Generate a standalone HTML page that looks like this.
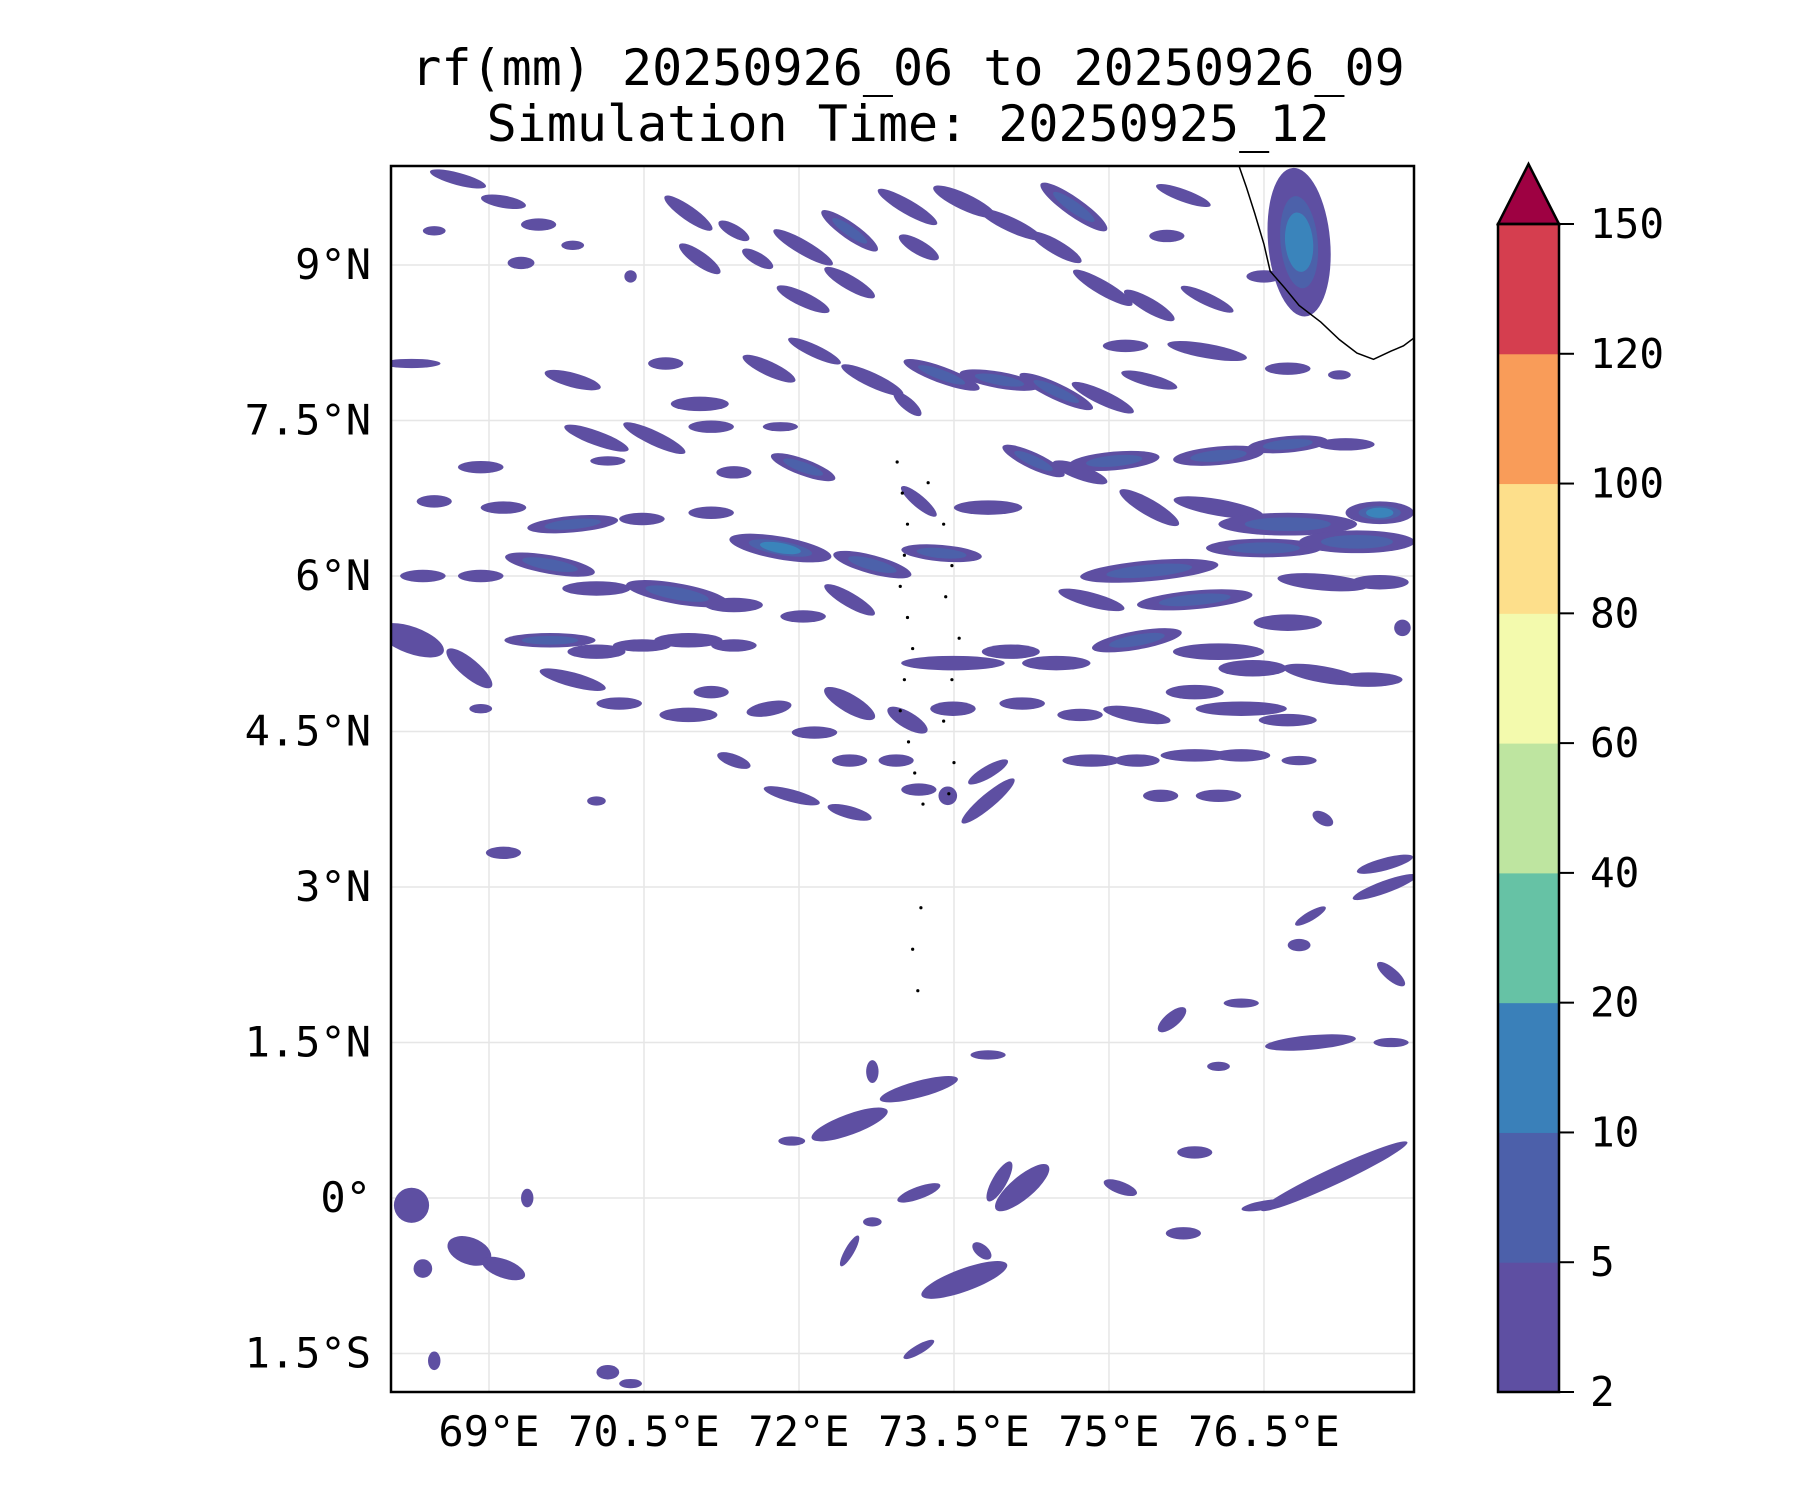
<!DOCTYPE html>
<html><head><meta charset="utf-8">
<style>
html,body{margin:0;padding:0;background:#fff;}
svg{display:block;font-family:"DejaVu Sans Mono","Liberation Mono",monospace;}
</style></head>
<body>
<svg id="chart" width="1800" height="1500" viewBox="0 0 1800 1500" xmlns="http://www.w3.org/2000/svg">
<text x="908" y="85" font-size="50" text-anchor="middle">rf(mm) 20250926_06 to 20250926_09</text>
<text x="908" y="141" font-size="50" text-anchor="middle">Simulation Time: 20250925_12</text>
<defs><clipPath id="mapclip"><rect x="391" y="166" width="1023" height="1226"/></clipPath></defs>
<g id="grid"></g>
<g id="blobs" clip-path="url(#mapclip)"></g>
<g id="coast" clip-path="url(#mapclip)"></g>
<rect x="391" y="166" width="1023" height="1226" fill="none" stroke="#000" stroke-width="2.5"/>
<g id="axes"></g>
<g id="cbar"></g>
</svg>
<script>
const latTicks=[9,7.5,6,4.5,3,1.5,0,-1.5];
const latLabels=["9°N","7.5°N","6°N","4.5°N","3°N","1.5°N","0°","1.5°S"];
const lonTicks=[69,70.5,72,73.5,75,76.5];
const lonLabels=["69°E","70.5°E","72°E","73.5°E","75°E","76.5°E"];
const cbLevels=[2,5,10,20,40,60,80,100,120,150];
const cbColors=["#5e4fa2","#4c60aa","#3a80b9","#66c2a5","#bee5a0","#f3faad","#fddf8b","#f99c59","#d53e4f"];
const extendColor="#9e0142";
// rain cells (one entry per cell, same order in every array)
const cellLon=[
68.70,69.14,69.48,68.47,69.31,69.81,70.37,70.93,71.04,71.37,
71.60,72.04,72.49,72.04,72.49,73.05,73.16,73.60,74.05,74.66,
74.49,74.94,75.39,75.95,76.50,75.56,75.72,76.84,75.16,75.95,
76.73,77.23,69.81,71.04,70.71,71.71,72.15,72.71,73.05,73.38,
73.94,74.49,74.94,75.39,68.25,70.04,70.60,71.15,71.82,72.04,
71.37,70.15,68.92,68.47,69.14,69.81,70.48,71.15,71.82,72.71,
73.38,73.16,73.83,74.27,74.72,75.05,76.06,76.73,77.29,75.39,
76.06,76.73,77.62,75.39,76.50,77.40,77.62,77.07,74.83,75.83,
76.73,77.84,69.59,70.04,70.82,71.37,68.92,68.36,68.25,68.81,
69.59,70.04,70.48,70.93,71.37,72.04,72.49,73.49,74.05,74.49,
75.27,76.06,76.39,77.07,77.51,68.92,69.81,70.26,70.93,71.15,
71.71,72.15,72.49,73.05,72.49,72.94,73.49,74.16,74.72,75.27,
75.83,76.28,76.73,74.83,75.27,75.83,76.28,76.84,71.37,71.93,
72.49,73.16,73.44,73.83,73.83,75.50,76.06,69.14,70.04,77.07,
77.67,77.67,76.95,76.84,77.73,75.61,76.28,76.95,77.73,76.06,
73.16,72.49,71.93,73.83,72.71,75.83,77.18,76.50,74.16,73.94,
75.11,75.72,73.60,73.77,73.16,72.71,72.49,73.16,68.25,68.81,
69.14,68.36,69.37,70.15,70.37,68.47];
const cellLat=[
9.83,9.61,9.39,9.33,9.02,9.19,8.89,9.50,9.06,9.33,
9.06,9.17,9.33,8.67,8.83,9.56,9.17,9.61,9.39,9.56,
9.17,8.78,8.61,8.67,8.89,9.28,9.67,9.22,8.22,8.17,
8.00,7.94,7.89,7.66,8.05,8.00,8.17,7.89,7.66,7.94,
7.89,7.78,7.72,7.89,8.05,7.33,7.33,7.44,7.44,7.05,
7.00,7.11,7.05,6.72,6.66,6.50,6.55,6.61,6.27,6.11,
6.22,6.72,6.66,7.11,7.00,7.11,7.16,7.27,7.27,6.66,
6.66,6.50,6.61,6.05,6.27,6.33,5.94,5.94,5.77,5.77,
5.55,5.50,6.11,5.88,5.83,5.72,6.00,6.00,5.38,5.11,
5.38,5.27,5.33,5.38,5.33,5.61,5.77,5.16,5.27,5.16,
5.38,5.27,5.11,5.05,5.00,4.72,5.00,4.77,4.66,4.88,
4.72,4.49,4.77,4.61,4.22,4.22,4.72,4.77,4.66,4.66,
4.88,4.72,4.61,4.22,4.22,4.27,4.27,4.22,4.22,3.88,
3.72,3.94,3.88,3.83,4.11,3.88,3.88,3.33,3.83,3.66,
3.22,3.00,2.72,2.44,2.16,1.72,1.88,1.50,1.50,1.27,
1.05,0.71,0.55,1.38,1.22,0.44,0.21,-0.07,0.10,0.16,
0.10,-0.34,-0.79,-0.51,0.05,-0.23,-0.51,-1.46,-0.07,-0.51,
-0.68,-0.68,0.00,-1.68,-1.79,-1.57];
const cellA=[
.28,.22,.17,.11,.13,.11,.06,.28,.24,.17,
.17,.33,.33,.28,.28,.33,.22,.33,.33,.39,
.28,.33,.28,.28,.17,.17,.28,.72,.22,.39,
.22,.11,.28,.28,.17,.28,.28,.33,.17,.39,
.39,.39,.33,.28,.28,.33,.33,.22,.17,.33,
.17,.17,.22,.17,.22,.44,.22,.22,.50,.39,
.39,.22,.33,.33,.28,.44,.44,.39,.28,.33,
.44,.67,.33,.67,.56,.56,.28,.44,.33,.56,
.33,.08,.44,.33,.50,.28,.22,.22,.33,.28,
.44,.28,.28,.33,.22,.22,.28,.50,.28,.33,
.44,.44,.33,.39,.33,.11,.33,.22,.28,.17,
.22,.22,.28,.22,.17,.17,.22,.22,.22,.33,
.28,.44,.28,.28,.22,.33,.28,.17,.17,.28,
.22,.17,.09,.33,.22,.17,.22,.17,.09,.11,
.28,.33,.17,.11,.17,.17,.17,.44,.17,.11,
.39,.39,.13,.17,.06,.17,.78,.22,.33,.22,
.17,.17,.44,.11,.22,.09,.17,.17,.17,.22,
.22,.09,.06,.11,.11,.06];
const cellB=[
.06,.06,.06,.045,.06,.045,.06,.07,.07,.06,
.06,.07,.08,.07,.07,.07,.07,.08,.07,.09,
.07,.07,.07,.06,.06,.06,.06,.30,.06,.07,
.06,.045,.07,.07,.06,.07,.06,.07,.06,.08,
.08,.08,.07,.06,.045,.07,.07,.06,.045,.08,
.06,.045,.06,.06,.06,.08,.06,.06,.11,.09,
.08,.06,.07,.08,.07,.09,.09,.08,.06,.08,
.08,.11,.11,.10,.09,.11,.07,.08,.07,.09,
.08,.08,.09,.07,.10,.07,.06,.06,.13,.09,
.07,.07,.06,.07,.06,.06,.07,.07,.07,.07,
.09,.08,.08,.08,.07,.045,.07,.06,.07,.06,
.07,.06,.09,.08,.06,.06,.07,.06,.06,.07,
.07,.07,.06,.06,.06,.06,.06,.045,.06,.06,
.06,.06,.09,.07,.06,.06,.06,.06,.045,.06,
.06,.06,.045,.06,.06,.07,.045,.07,.045,.045,
.08,.10,.045,.045,.11,.06,.08,.045,.11,.07,
.06,.06,.11,.06,.06,.045,.045,.045,.17,.13,
.09,.09,.09,.07,.045,.09];
const cellAng=[
15,10,0,0,0,0,0,35,35,30,
30,30,35,25,30,30,30,25,25,35,
30,30,30,25,0,0,20,85,0,10,
0,0,15,0,0,25,25,25,40,20,
10,25,25,15,0,20,25,0,0,20,
0,0,0,0,0,-5,0,0,10,15,
5,40,0,25,20,-5,-5,-5,0,30,
10,0,0,-5,0,0,0,5,15,-5,
0,0,10,0,10,0,0,0,20,40,
0,0,0,0,0,0,30,0,0,0,
-10,0,0,10,0,0,15,0,0,0,
-10,0,30,30,0,0,0,0,0,10,
0,0,0,0,0,0,0,0,20,15,
15,0,0,-40,-30,0,0,0,0,30,
-15,-20,-30,0,40,-40,0,-5,0,0,
-15,-20,0,0,0,0,-25,-10,-40,-60,
20,0,-20,40,-20,0,-60,-30,0,20,
20,0,0,0,0,0];
const cellLevel=[
1,1,1,1,1,1,1,1,1,1,
1,1,2,1,1,1,1,1,1,2,
1,1,1,1,1,1,1,3,1,1,
1,1,1,1,1,1,1,1,1,2,
2,2,1,1,1,1,1,1,1,2,
1,1,1,1,1,2,1,1,3,2,
2,1,1,2,1,2,2,2,1,1,
1,2,3,2,2,2,1,1,1,2,
1,1,2,1,2,1,1,1,1,1,
2,1,1,1,1,1,1,1,1,1,
2,1,1,1,1,1,1,1,1,1,
1,1,1,1,1,1,1,1,1,1,
1,1,1,1,1,1,1,1,1,1,
1,1,1,1,1,1,1,1,1,1,
1,1,1,1,1,1,1,1,1,1,
1,1,1,1,1,1,1,1,1,1,
1,1,1,1,1,1,1,1,1,1,
1,1,1,1,1,1];
const coastLon=[76.26,76.33,76.41,76.50,76.56,76.70,76.84,77.05,77.23,77.40,77.56,77.73,77.85,77.97];
const coastLat=[9.95,9.75,9.50,9.20,8.94,8.78,8.61,8.45,8.28,8.15,8.09,8.17,8.22,8.31];
const atollLon=[72.95,73.00,73.05,73.02,72.98,73.05,73.10,73.02,72.98,73.06,73.12,73.20,73.45,73.50,73.40,73.48,73.55,73.42,73.48,73.40,73.25,73.18,73.10,73.15];
const atollLat=[7.10,6.80,6.50,6.20,5.90,5.60,5.30,5.00,4.70,4.40,4.10,3.80,3.90,4.20,4.60,5.00,5.40,5.80,6.10,6.50,6.90,2.80,2.40,2.00];

const NS="http://www.w3.org/2000/svg";
const X0=391,X1=1414,Y0=166,Y1=1392;
function xs(lon){return 489+(lon-69)*103.33;}
function ys(lat){return 265+(9-lat)*103.67;}
function mk(t,attrs,parent){const e=document.createElementNS(NS,t);for(const k in attrs)e.setAttribute(k,attrs[k]);parent.appendChild(e);return e;}

const grid=document.getElementById('grid');
latTicks.forEach((v,i)=>{
  const l=mk('line',{x1:X0,x2:X1,y1:ys(v),y2:ys(v),stroke:'#e6e6e6','stroke-width':1.5},grid);
  
  
});
lonTicks.forEach((v,i)=>{
  const l=mk('line',{x1:xs(v),x2:xs(v),y1:Y0,y2:Y1,stroke:'#e6e6e6','stroke-width':1.5},grid);
  
  
});

const blobs=document.getElementById('blobs');
const inner=["#5e4fa2","#4c61aa","#3a84bb"];
const scales=[1,0.62,0.4];
const n=Math.min(cellLon.length,cellLat.length,cellA.length,cellB.length,cellAng.length,cellLevel.length);
for(let i=0;i<n;i++){
  const cx=xs(cellLon[i]),cy=ys(cellLat[i]);
  const g=mk('g',{transform:`translate(${cx},${cy}) rotate(${cellAng[i]})`},blobs);
  
  
  for(let k=0;k<cellLevel[i];k++){
    mk('ellipse',{cx:0,cy:0,rx:cellA[i]*103.5*scales[k],ry:Math.max(3,cellB[i]*103.5*(k?(k==1?0.6:0.45):1)),fill:inner[k]},g);
  }
}

const coast=document.getElementById('coast');
let d='';
coastLon.forEach((v,i)=>{d+=(i?'L':'M')+xs(v)+','+ys(coastLat[i]);});
const cp=mk('path',{d:d,fill:'none',stroke:'#000','stroke-width':1.5},coast);


atollLon.forEach((v,i)=>{
  const c=mk('circle',{cx:xs(v),cy:ys(atollLat[i]),r:1.6,fill:'#000'},coast);
  
  
});

const axes=document.getElementById('axes');
latTicks.forEach((v,i)=>{
  const t=mk('text',{x:371,y:ys(v)+14,'font-size':42,'text-anchor':'end'},axes);
  t.textContent=latLabels[i];
  
  
});
lonTicks.forEach((v,i)=>{
  const t=mk('text',{x:xs(v),y:1446,'font-size':42,'text-anchor':'middle'},axes);
  t.textContent=lonLabels[i];
  
  
});

const cbar=document.getElementById('cbar');
const CBX=1498,CBW=61,CBT=224,CBB=1392;
const seg=(CBB-CBT)/(cbLevels.length-1);
cbColors.forEach((c,i)=>{
  const r=mk('rect',{x:CBX,y:CBB-(i+1)*seg,width:CBW,height:seg+0.5,fill:c},cbar);
  
  
});
const tri=mk('polygon',{points:`${CBX},${CBT} ${CBX+CBW/2},${CBT-60} ${CBX+CBW},${CBT}`,fill:extendColor,stroke:'#000','stroke-width':2.5},cbar);


const fr=mk('rect',{x:CBX,y:CBT,width:CBW,height:CBB-CBT,fill:'none',stroke:'#000','stroke-width':2.5},cbar);


cbLevels.forEach((v,i)=>{
  const y=CBB-i*seg;
  mk('line',{x1:CBX+CBW,x2:CBX+CBW+15,y1:y,y2:y,stroke:'#000','stroke-width':2},cbar);
  const t=mk('text',{x:1590,y:y+14,'font-size':41},cbar);
  t.textContent=String(v);
  
  
});
</script>
</body></html>
